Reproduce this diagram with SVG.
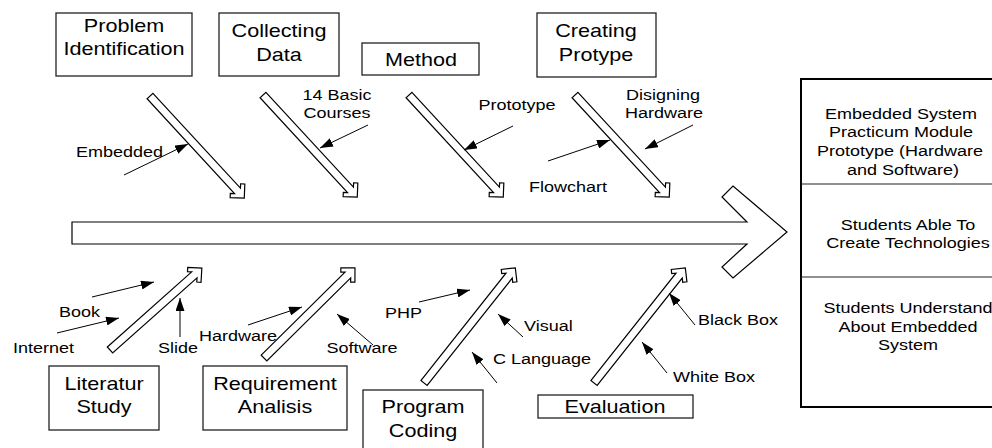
<svg xmlns="http://www.w3.org/2000/svg" width="992" height="448" viewBox="0 0 992 448">
<defs>
<style>
text{font-family:"Liberation Sans",Arial,sans-serif;fill:#000}
.bt{font-size:18px;text-anchor:middle}
.lb{font-size:15px}
.lm{font-size:15px;text-anchor:middle}
.rb{font-size:15px;text-anchor:middle}
.box{fill:#fff;stroke:#222;stroke-width:1.3}
.blk{fill:#fff;stroke:#000;stroke-width:1.2;stroke-linejoin:miter}
.ptr{stroke:#000;stroke-width:1;fill:none;marker-end:url(#ah)}
</style>
<marker id="ah" markerWidth="13" markerHeight="9" refX="13" refY="4.5" orient="auto" markerUnits="userSpaceOnUse"><path d="M0,0 L13,4.5 L0,9 z" fill="#000"/></marker>
</defs>
<rect width="992" height="448" fill="#fff"/>

<g id="spine">
<polygon class="blk" points="72,222 747,222 722,197 733,186 787,232 733,278 722,267 747,244 72,244"/>
</g>

<g id="connectors">
<polygon class="blk" transform="translate(150 96) rotate(47.3)" points="0,-4 129,-4 126,-7 129,-10 139,0 129,10 126,7 129,4 0,4"/>
<polygon class="blk" transform="translate(263 95) rotate(47.3)" points="0,-4 129,-4 126,-7 129,-10 139,0 129,10 126,7 129,4 0,4"/>
<polygon class="blk" transform="translate(409 95) rotate(47.3)" points="0,-4 129,-4 126,-7 129,-10 139,0 129,10 126,7 129,4 0,4"/>
<polygon class="blk" transform="translate(575 95) rotate(47.3)" points="0,-4 129,-4 126,-7 129,-10 139,0 129,10 126,7 129,4 0,4"/>
<polygon class="blk" transform="translate(110 350) rotate(-41.7)" points="0,-4 113,-4 110,-7 113,-10 123,0 113,10 110,7 113,4 0,4"/>
<polygon class="blk" transform="translate(264 358) rotate(-44.7)" points="0,-4 118,-4 115,-7 118,-10 128,0 118,10 115,7 118,4 0,4"/>
<polygon class="blk" transform="translate(424 383) rotate(-51.6)" points="0,-4 137,-4 134,-7 137,-10 147,0 137,10 134,7 137,4 0,4"/>
<polygon class="blk" transform="translate(594 383) rotate(-51.6)" points="0,-4 137,-4 134,-7 137,-10 147,0 137,10 134,7 137,4 0,4"/>

<line class="ptr" x1="124" y1="175" x2="188" y2="144"/>
<line class="ptr" x1="368" y1="125" x2="320" y2="148"/>
<line class="ptr" x1="513" y1="126" x2="464" y2="150"/>
<line class="ptr" x1="693" y1="125" x2="645" y2="149"/>
<line class="ptr" x1="548" y1="161" x2="610" y2="140"/>
<line class="ptr" x1="92" y1="297" x2="154" y2="282"/>
<line class="ptr" x1="57" y1="333" x2="119" y2="318"/>
<line class="ptr" x1="180" y1="337" x2="180" y2="298"/>
<line class="ptr" x1="248" y1="325" x2="302" y2="307"/>
<line class="ptr" x1="373" y1="345" x2="337" y2="314"/>
<line class="ptr" x1="419" y1="302" x2="470" y2="290"/>
<line class="ptr" x1="523" y1="337" x2="498" y2="314"/>
<line class="ptr" x1="497" y1="383" x2="472" y2="352"/>
<line class="ptr" x1="695" y1="325" x2="669" y2="293"/>
<line class="ptr" x1="667" y1="373" x2="642" y2="342"/>
</g>

<g id="labels">
<text class="lb" transform="translate(76 157) scale(1.2 1)">Embedded</text>
<text class="lm" transform="translate(337 100) scale(1.2 1)">14 Basic</text>
<text class="lm" transform="translate(337 118) scale(1.2 1)">Courses</text>
<text class="lm" transform="translate(517 110) scale(1.2 1)">Prototype</text>
<text class="lm" transform="translate(663 100) scale(1.2 1)">Disigning</text>
<text class="lm" transform="translate(664 118) scale(1.2 1)">Hardware</text>
<text class="lm" transform="translate(568 192) scale(1.2 1)">Flowchart</text>
<text class="lb" transform="translate(59 317) scale(1.2 1)">Book</text>
<text class="lb" transform="translate(13 353) scale(1.2 1)">Internet</text>
<text class="lb" transform="translate(158 353) scale(1.2 1)">Slide</text>
<text class="lm" transform="translate(238 341) scale(1.2 1)">Hardware</text>
<text class="lm" transform="translate(362 353) scale(1.2 1)">Software</text>
<text class="lb" transform="translate(385 318) scale(1.2 1)">PHP</text>
<text class="lb" transform="translate(524 331) scale(1.2 1)">Visual</text>
<text class="lb" transform="translate(493 364) scale(1.2 1)">C Language</text>
<text class="lb" transform="translate(698 325) scale(1.2 1)">Black Box</text>
<text class="lb" transform="translate(673 382) scale(1.2 1)">White Box</text>
</g>

<g id="problem-identification">
<rect class="box" x="56" y="13" width="136" height="63"/>
<text class="bt" transform="translate(124 32) scale(1.2 1)">Problem</text>
<text class="bt" transform="translate(124 55) scale(1.2 1)">Identification</text>
</g>
<g id="collecting-data">
<rect class="box" x="219" y="13" width="120" height="63"/>
<text class="bt" transform="translate(279 37) scale(1.2 1)">Collecting</text>
<text class="bt" transform="translate(279 61) scale(1.2 1)">Data</text>
</g>
<g id="method">
<rect class="box" x="362" y="43" width="117" height="32"/>
<text class="bt" transform="translate(421 66) scale(1.2 1)">Method</text>
</g>
<g id="creating-protype">
<rect class="box" x="537" y="13" width="119" height="64"/>
<text class="bt" transform="translate(596 37) scale(1.2 1)">Creating</text>
<text class="bt" transform="translate(596 61) scale(1.2 1)">Protype</text>
</g>
<g id="literatur-study">
<rect class="box" x="49" y="366" width="110" height="64"/>
<text class="bt" transform="translate(104 390) scale(1.2 1)">Literatur</text>
<text class="bt" transform="translate(104 413) scale(1.2 1)">Study</text>
</g>
<g id="requirement-analisis">
<rect class="box" x="203" y="366" width="144" height="64"/>
<text class="bt" transform="translate(275 390) scale(1.2 1)">Requirement</text>
<text class="bt" transform="translate(275 413) scale(1.2 1)">Analisis</text>
</g>
<g id="program-coding">
<rect class="box" x="363" y="390" width="120" height="70"/>
<text class="bt" transform="translate(423 413) scale(1.2 1)">Program</text>
<text class="bt" transform="translate(423 437) scale(1.2 1)">Coding</text>
</g>
<g id="evaluation">
<rect class="box" x="538" y="395" width="155" height="23"/>
<text class="bt" transform="translate(615 413) scale(1.2 1)">Evaluation</text>
</g>
<g id="outcomes">
<rect x="801" y="79" width="210" height="328" fill="#fff" stroke="#000" stroke-width="2"/>
<line x1="801" y1="184" x2="992" y2="184" stroke="#222" stroke-width="1.2"/>
<line x1="801" y1="277" x2="992" y2="277" stroke="#222" stroke-width="1.2"/>
<text class="rb" transform="translate(901 119) scale(1.2 1)">Embedded System</text>
<text class="rb" transform="translate(901 137) scale(1.2 1)">Practicum Module</text>
<text class="rb" transform="translate(900 156) scale(1.2 1)">Prototype (Hardware</text>
<text class="rb" transform="translate(903 175) scale(1.2 1)">and Software)</text>
<text class="rb" transform="translate(908 230) scale(1.2 1)">Students Able To</text>
<text class="rb" transform="translate(908 248) scale(1.2 1)">Create Technologies</text>
<text class="rb" transform="translate(908 313) scale(1.2 1)">Students Understand</text>
<text class="rb" transform="translate(908 332) scale(1.2 1)">About Embedded</text>
<text class="rb" transform="translate(908 350) scale(1.2 1)">System</text>
</g>
</svg>
